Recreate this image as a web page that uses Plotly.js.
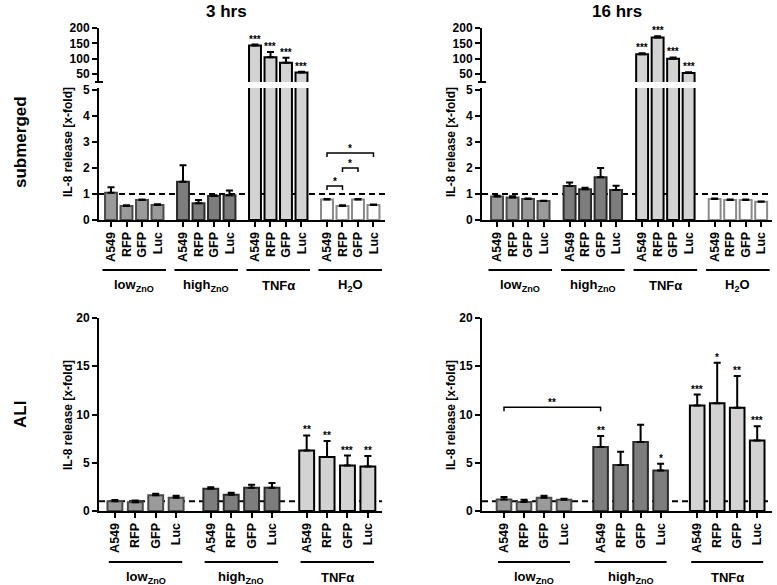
<!DOCTYPE html>
<html><head><meta charset="utf-8">
<script src="https://cdn.plot.ly/plotly-3.0.1.min.js"></script>
<style>html,body{margin:0;padding:0;background:#fff}#chart{width:777px;height:585px}</style>
</head><body><div id="chart"></div>
<script>
// ---------- data ----------
const barLabels = ["A549","RFP","GFP","Luc"];
const groupNames = ["low<sub>ZnO</sub>","high<sub>ZnO</sub>","TNFα","H<sub>2</sub>O"];
const colTitles = ["3 hrs","16 hrs"];
const rowTitles = ["submerged","ALI"];
const yTitle = "IL-8 release [x-fold]";
const topLowTicks = [0,1,2,3,4,5];
const topHighTicks = [50,100,150,200];
const aliTicks = [0,5,10,15,20];

// submerged, 3 hrs
const sub3Low = [1.05,0.54,0.77,0.58],  sub3LowErr = [0.21,0.03,0.02,0.03];
const sub3High = [1.47,0.64,0.92,0.95], sub3HighErr = [0.64,0.13,0.03,0.18];
const sub3Tnf = [143,105,87,55],        sub3TnfErr = [3,17,16,2];
const sub3H2o = [0.79,0.54,0.79,0.58],  sub3H2oErr = [0.02,0.03,0.02,0.02];
const sub3TnfStars = ["***","***","***","***"];
const sub3H2oBrackets = [[0,1,1.31,"*"],[1,2,2.0,"*"],[0,3,2.58,"*"]];

// submerged, 16 hrs
const sub16Low = [0.90,0.87,0.81,0.73],  sub16LowErr = [0.03,0.04,0.02,0.01];
const sub16High = [1.31,1.18,1.64,1.15], sub16HighErr = [0.13,0.06,0.36,0.17];
const sub16Tnf = [114,169,100,53],       sub16TnfErr = [4,4,4,3];
const sub16H2o = [0.81,0.77,0.77,0.70],  sub16H2oErr = [0.02,0.02,0.02,0.01];
const sub16TnfStars = ["***","***","***","***"];

// ALI, 3 hrs
const ali3Low = [1.0,0.9,1.62,1.38],    ali3LowErr = [0.14,0.2,0.17,0.2];
const ali3High = [2.31,1.69,2.41,2.41], ali3HighErr = [0.14,0.2,0.3,0.48];
const ali3Tnf = [6.28,5.59,4.72,4.62],  ali3TnfErr = [1.55,1.66,1.03,1.07];
const ali3TnfStars = ["**","**","***","**"];

// ALI, 16 hrs
const ali16Low = [1.2,0.93,1.38,1.17],    ali16LowErr = [0.24,0.24,0.2,0.1];
const ali16High = [6.62,4.76,7.14,4.2],   ali16HighErr = [1.14,1.38,1.79,0.69];
const ali16Tnf = [10.93,11.17,10.69,7.31],ali16TnfErr = [1.14,4.2,3.3,1.48];
const ali16HighStars = ["**","","","*"];
const ali16TnfStars = ["***","*","**","***"];
const ali16Brackets = [[[0,0],[1,0],10.75,"**"]];

// ---------- style ----------
const W = 777, H = 585;
const FONT = "Liberation Sans, Arial, sans-serif";
const fillC = ["#9a9a9a","#7d7d7d","#d3d3d3","#ffffff"];
const edgeC = ["#4a4a4a","#2a2a2a","#000000","#8a8a8a"];
const X = p => p / W, Y = p => 1 - p / H;
const B = s => "<b>" + s + "</b>";

const panels = [
  {xa:"x", ya:"y", yu:"y2", left:99, right:385, u:15.5, off:-0.774, G:4.645, bw:0.77, top:true,
   groups:[[sub3Low,sub3LowErr],[sub3High,sub3HighErr],[sub3Tnf,sub3TnfErr],[sub3H2o,sub3H2oErr]],
   stars:[null,null,sub3TnfStars,null], brackets: sub3H2oBrackets.map(b=>[[3,b[0]],[3,b[1]],b[2],b[3]])},
  {xa:"x2", ya:"y3", yu:"y4", left:482, right:772, u:15.5, off:-0.97, G:4.68, bw:0.77, top:true,
   groups:[[sub16Low,sub16LowErr],[sub16High,sub16HighErr],[sub16Tnf,sub16TnfErr],[sub16H2o,sub16H2oErr]],
   stars:[null,null,sub16TnfStars,null], brackets:[]},
  {xa:"x3", ya:"y5", left:99, right:382, u:20.4, off:-0.78, G:4.7, bw:0.73, top:false,
   groups:[[ali3Low,ali3LowErr],[ali3High,ali3HighErr],[ali3Tnf,ali3TnfErr]],
   stars:[null,null,ali3TnfStars], brackets:[]},
  {xa:"x4", ya:"y6", left:482, right:772, u:20, off:-1.1, G:4.83, bw:0.73, top:false,
   groups:[[ali16Low,ali16LowErr],[ali16High,ali16HighErr],[ali16Tnf,ali16TnfErr]],
   stars:[null,ali16HighStars,ali16TnfStars], brackets: ali16Brackets}
];

const tickFont = {family:FONT, size:12, color:"#000"};
const axBase = {showline:true, linewidth:2, linecolor:"#000", ticks:"outside", ticklen:5, tickwidth:2,
  tickcolor:"#000", showgrid:false, zeroline:false, tickfont:tickFont, fixedrange:true};

const traces = [], shapes = [], annotations = [];
const layout = {width:W, height:H, margin:{l:0,r:0,t:0,b:0}, paper_bgcolor:"#fff", plot_bgcolor:"rgba(0,0,0,0)",
  showlegend:false, barmode:"overlay", font:{family:FONT, color:"#000"}};

const axName = a => a.replace(/^x/,"xaxis").replace(/^y/,"yaxis");
const txt = (o) => Object.assign({showarrow:false, xanchor:"center", yanchor:"middle"}, o);

panels.forEach(p => {
  const xr = [p.off, p.off + (p.right - p.left) / p.u];
  const pos = (g,i) => g * p.G + i;
  const tv = [], tt = [];
  p.groups.forEach((gr,g) => barLabels.forEach((l,i) => { tv.push(pos(g,i)); tt.push(B(l)); }));
  layout[axName(p.xa)] = Object.assign({}, axBase, {domain:[X(p.left), X(p.right)], range:xr,
    anchor:p.ya, tickvals:tv, ticktext:tt, tickangle:-90, tickfont:{family:FONT, size:12.5, color:"#000"}});
  if (p.top) {
    layout[axName(p.ya)] = Object.assign({}, axBase, {domain:[Y(220), Y(88)], range:[0, (220-88)/26],
      anchor:p.xa, tickvals:topLowTicks, ticktext:topLowTicks.map(v=>B(v))});
    layout[axName(p.yu)] = Object.assign({}, axBase, {domain:[Y(82), Y(28)], range:[50-(82-74)/(46/150), 200],
      anchor:p.xa, tickvals:topHighTicks, ticktext:topHighTicks.map(v=>B(v))});
    shapes.push({type:"line", xref:"paper", yref:"paper", x0:X(p.left-4), x1:X(p.left+4), y0:Y(82), y1:Y(82),
      line:{color:"#000", width:2}});
  } else {
    layout[axName(p.ya)] = Object.assign({}, axBase, {domain:[Y(511), Y(318)], range:[0,20],
      anchor:p.xa, tickvals:aliTicks, ticktext:aliTicks.map(v=>B(v))});
  }
  const yAxes = p.top ? [p.ya, p.yu] : [p.ya];
  p.groups.forEach((gr,g) => {
    yAxes.forEach(ya => {
      traces.push({type:"bar", x:barLabels.map((_,i)=>pos(g,i)), y:gr[0], width:p.bw,
        xaxis:p.xa, yaxis:ya, hoverinfo:"skip",
        marker:{color:fillC[g], line:{color:edgeC[g], width:2}},
        error_y:{type:"data", symmetric:false, array:gr[1], arrayminus:gr[1].map(()=>0),
          color:"#000", thickness:2, width:3.5}});
    });
    const ext = p.top ? 0.55 : 0.3;
    const ly = p.top ? 270 : 562, ty = p.top ? 285 : 577;
    shapes.push({type:"line", xref:p.xa, yref:"paper", x0:pos(g,0)-ext, x1:pos(g,3)+ext, y0:Y(ly), y1:Y(ly),
      line:{color:"#000", width:2}});
    annotations.push(txt({xref:p.xa, yref:"paper", x:(pos(g,0)+pos(g,3))/2, y:Y(ty), text:B(groupNames[g]),
      font:{family:FONT, size:13, color:"#000"}}));
    if (p.stars[g]) p.stars[g].forEach((s,i) => {
      if (!s) return;
      const big = p.top && gr[0][i] > 10;
      annotations.push({showarrow:false, xref:p.xa, yref: big ? p.yu : p.ya, x:pos(g,i), y:gr[0][i]+gr[1][i],
        text:B(s), yanchor:"bottom", yshift:-2, font:{family:FONT, size:10, color:"#000"}});
    });
  });
  shapes.push({type:"line", xref:p.xa, yref:p.ya, x0:xr[0], x1:xr[1], y0:1, y1:1, layer:"below",
    line:{color:"#000", width:2, dash:"6px,4px"}});
  const yUnit = p.top ? 1/26 : 20/193;
  p.brackets.forEach(b => {
    const x0 = pos(b[0][0], b[0][1]), x1 = pos(b[1][0], b[1][1]);
    const yl = b[2], yd = b[2] - 4*yUnit;
    shapes.push({type:"path", xref:p.xa, yref:p.ya, path:`M ${x0},${yd} L ${x0},${yl} L ${x1},${yl} L ${x1},${yd}`,
      line:{color:"#000", width:1.5}});
    annotations.push({showarrow:false, xref:p.xa, yref:p.ya, x:(x0+x1)/2, y:yl, text:B(b[3]), yanchor:"bottom",
      yshift:-3, font:{family:FONT, size:10, color:"#000"}});
  });
  annotations.push(txt({xref:"paper", yref:"paper", x:X(p.left - 31), y:Y(p.top ? 142 : 415), text:B(yTitle),
    textangle:-90, font:{family:FONT, size:12, color:"#000"}}));
});

annotations.push(txt({xref:"paper", yref:"paper", x:X(226), y:Y(11), text:B(colTitles[0]),
  font:{family:FONT, size:17, color:"#000"}}));
annotations.push(txt({xref:"paper", yref:"paper", x:X(617), y:Y(11), text:B(colTitles[1]),
  font:{family:FONT, size:17, color:"#000"}}));
annotations.push(txt({xref:"paper", yref:"paper", x:X(20), y:Y(142), text:B(rowTitles[0]), textangle:-90,
  font:{family:FONT, size:17, color:"#000"}}));
annotations.push(txt({xref:"paper", yref:"paper", x:X(20), y:Y(415), text:B(rowTitles[1]), textangle:-90,
  font:{family:FONT, size:17, color:"#000"}}));

layout.shapes = shapes;
layout.annotations = annotations;
Plotly.newPlot("chart", traces, layout, {staticPlot:true, displayModeBar:false});
</script></body></html>
